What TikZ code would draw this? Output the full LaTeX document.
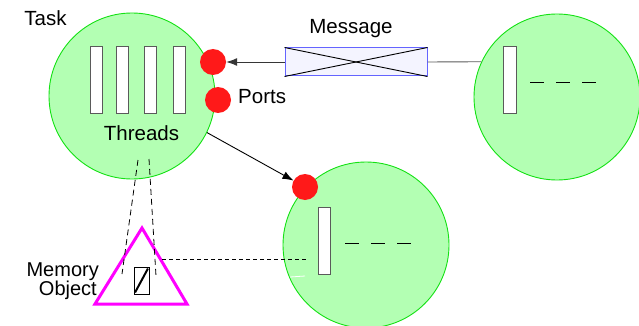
\documentclass[tikz,border=0pt]{standalone}
\usepackage{fontspec}
\setmainfont{Liberation Sans}
\usetikzlibrary{arrows.meta,calc}
\definecolor{taskfill}{RGB}{179,255,179}
\definecolor{taskline}{RGB}{20,225,20}
\definecolor{portred}{RGB}{255,25,25}
\definecolor{msgfill}{RGB}{244,244,255}
\definecolor{msgline}{RGB}{100,100,255}
\definecolor{barline}{RGB}{90,90,90}
\definecolor{memmag}{RGB}{255,0,255}
\tikzset{
  task/.style={circle, draw=taskline, fill=taskfill, line width=0.9pt, minimum size=166pt, inner sep=0pt},
  port/.style={circle, fill=portred, minimum size=26pt, inner sep=0pt},
  thread/.style={rectangle, draw=barline, fill=white, line width=1pt, minimum width=12pt, minimum height=67pt, inner sep=0pt},
  lbl/.style={font=\fontsize{20.5pt}{22pt}\selectfont, inner sep=0pt},
  msgbox/.style={rectangle, draw=msgline, fill=msgfill, line width=1pt, minimum width=142pt, minimum height=28pt, inner sep=0pt},
  dashrow/.style={line width=0.9pt, dash pattern=on 14pt off 12pt},
  conn/.style={line width=0.9pt, -{Latex[length=11pt,width=8pt]}},
}
\begin{document}
\begin{tikzpicture}[x=1pt,y=-1pt]
\path[use as bounding box] (0,0) rectangle (639,326);
% task circles
\node[task] (lc) at (132,96) {};
\node[task] (rc) at (557,97) {};
\node[task] (bc) at (366,245) {};
% threads in left task
\node[thread] (t1) at (96,80.5) {};
\node[thread] (t2) at (122,80.5) {};
\node[thread] (t3) at (150,80.5) {};
\node[thread] (t4) at (179,80.5) {};
\node[lbl] (threads) at (141.5,133) {Threads};
\node[lbl] (task) at (45.5,18) {Task};
% ports
\node[port] (p1) at (213,62) {};
\node[port] (p2) at (218,100) {};
\node[port] (p3) at (305,187) {};
\node[lbl, anchor=west] (ports) at (238,97) {Ports};
% message
\node[msgbox] (msg) at (356,62) {};
\draw[line width=0.9pt] (msg.north west) -- (msg.south east);
\draw[line width=0.9pt] (msg.south west) -- (msg.north east);
\node[lbl] (msglbl) at (351,29) {Message};
\draw[line width=0.9pt, barline] (msg.east) -- (rc.155);
\draw[conn, barline!60!black] (msg.west) -- (p1);
% right task contents
\node[thread, minimum width=13pt] (rt) at (509.5,80.5) {};
\coordinate (rd1) at (530,82);
\coordinate (rd2) at (596,82);
\draw[dashrow] (rd1) -- (rd2);
% arrow to bottom task
\draw[conn] (lc.-26) -- (p3);
% bottom task contents
\node[thread] (bt) at (324,240.5) {};
\coordinate (bd1) at (345,243);
\coordinate (bd2) at (411,243);
\draw[dashrow] (bd1) -- (bd2);
\coordinate (bw1) at (290,277);
\coordinate (bw2) at (305,276);
\draw[white, line width=0.8pt] (bw1) -- (bw2);
% memory object
\coordinate (ta) at (142,228);
\coordinate (tl) at (95,304);
\coordinate (tr) at (187,304);
\draw[memmag, line width=3pt, line join=miter] (ta) -- (tl) -- (tr) -- cycle;
\node[rectangle, draw=black, fill=white, line width=0.9pt, minimum width=15pt, minimum height=27pt, inner sep=0pt] (mo) at (141.5,280.5) {};
\draw[line width=2pt] ($(mo.south west)+(1.5,-2)$) -- ($(mo.north east)+(-1.5,2)$);
\node[lbl, font=\fontsize{20pt}{22pt}\selectfont, anchor=base east] (memlbl1) at (99,276) {Memory};
\node[lbl, font=\fontsize{20pt}{22pt}\selectfont, anchor=base east] (memlbl2) at (97,295) {Object};
% dashed mapping lines
\coordinate (d1a) at (138,160);
\coordinate (d1b) at (122,274);
\coordinate (d2a) at (149,159);
\coordinate (d2b) at (156,276);
\draw[line width=0.8pt, dash pattern=on 6pt off 4pt] (d1a) -- (d1b);
\draw[line width=0.8pt, dash pattern=on 6pt off 4pt] (d2a) -- (d2b);
\coordinate (h1) at (162,259);
\coordinate (h2) at (307,259);
\draw[line width=0.8pt, dash pattern=on 4pt off 3pt] (h1) -- (h2);
\end{tikzpicture}
\end{document}
